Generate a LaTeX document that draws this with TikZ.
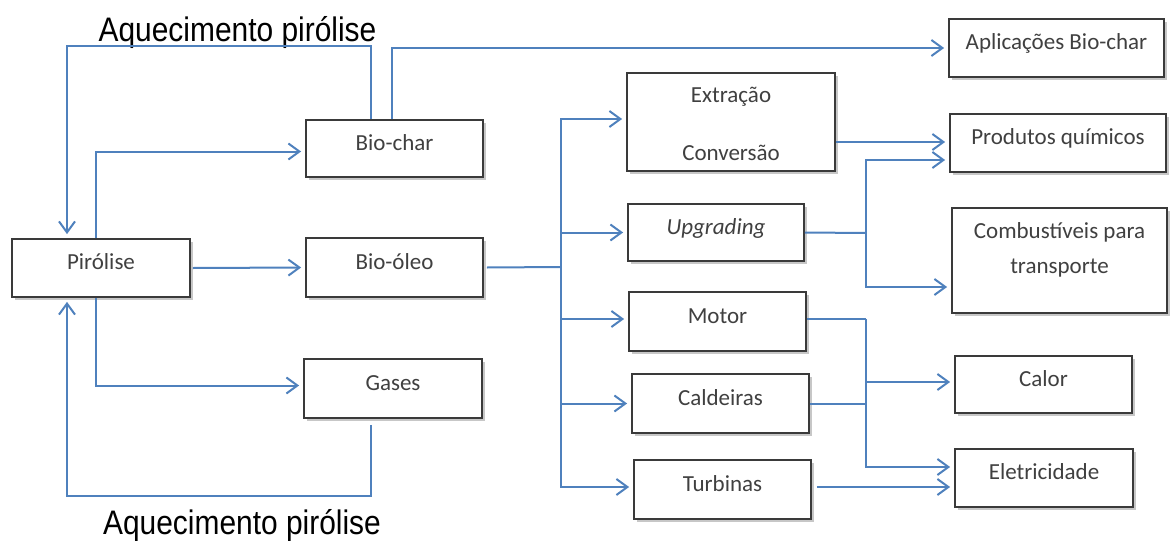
\documentclass[tikz,border=0pt]{standalone}
\usepackage{fontspec}
\setmainfont{Carlito}
\newfontfamily\titlefont[FakeStretch=0.88]{Liberation Sans}
\usetikzlibrary{arrows.meta,shadows,calc}
\definecolor{lineblue}{HTML}{4F81BD}
\definecolor{boxgray}{HTML}{3A3A3A}
\definecolor{txtgray}{HTML}{404040}
\tikzset{
 box/.style={draw=boxgray, line width=1.8pt, fill=white, inner sep=0pt, text=txtgray,
   font=\fontsize{23}{28}\selectfont, text height=12pt, text depth=9pt,
   drop shadow={shadow xshift=3pt, shadow yshift=-3pt, opacity=0.22, fill=black}},
 boxtext/.style={text=txtgray, font=\fontsize{23}{28}\selectfont, inner sep=0pt, text height=12pt, text depth=9pt},
 conn/.style={draw=lineblue, line width=2pt},
 arr/.style={conn, -{Straight Barb[length=11pt,width=16pt]}, shorten >=4pt},
 title/.style={font=\titlefont\fontsize{34}{40}\selectfont, text=black, inner sep=0pt, anchor=base},
}
\begin{document}
\begin{tikzpicture}[x=1pt,y=-1pt]
\useasboundingbox (0,0) rectangle (1171,541);
% boxes
\node[box, minimum width=178pt, minimum height=58pt] (pir) at (101,268) {Pirólise};
\node[box, minimum width=177pt, minimum height=57pt] (biochar) at (394.5,148.5) {Bio-char};
\node[box, minimum width=177pt, minimum height=59pt] (bioleo) at (394.5,267.5) {Bio-óleo};
\node[box, minimum width=178pt, minimum height=59pt] (gases) at (393,388.5) {Gases};
\node[box, minimum width=208pt, minimum height=98pt] (extr) at (731,122) {};
\node[boxtext] (extrA) at (731,100.5) {Extração};
\node[boxtext] (extrB) at (731,158.5) {Conversão};
\node[box, minimum width=176pt, minimum height=57pt] (upg) at (716,232.5) {\itshape Upgrading};
\node[box, minimum width=177pt, minimum height=59pt] (motor) at (717.5,321.5) {Motor};
\node[box, minimum width=177pt, minimum height=59pt] (cald) at (720.5,403.5) {Caldeiras};
\node[box, minimum width=177pt, minimum height=59pt] (turb) at (722.5,489.5) {Turbinas};
\node[box, minimum width=215pt, minimum height=58pt] (apl) at (1056.5,48) {Aplicações Bio-char};
\node[box, minimum width=216pt, minimum height=58pt] (prod) at (1058,143) {Produtos químicos};
\node[box, minimum width=215pt, minimum height=105pt] (comb) at (1059.5,260.5) {};
\node[boxtext] (combA) at (1059.5,236.5) {Combustíveis para};
\node[boxtext] (combB) at (1059.5,271.5) {transporte};
\node[box, minimum width=177pt, minimum height=57pt] (calor) at (1043.5,384.5) {Calor};
\node[box, minimum width=178pt, minimum height=58pt] (elet) at (1044,478) {Eletricidade};
% titles
\node[title] (t1) at (237.5,41) {Aquecimento pirólise};
\node[title] (t2) at (242,534) {Aquecimento pirólise};
% connectors left part
\coordinate (tl) at (67,46);
\coordinate (bl) at (67,496);
\draw[arr] ([xshift=-23.5pt]biochar.north) -- ([xshift=-23.5pt]biochar.north |- tl) -- (tl) -- (tl |- pir.north);
\draw[arr] ([xshift=-2.5pt]biochar.north) |- (apl.west);
\draw[arr] ([xshift=-5pt]pir.north) |- ([yshift=-3pt]biochar.west);
\draw[arr] ([xshift=2pt]pir.east) -- (bioleo.west);
\draw[arr] ([xshift=-5pt]pir.south) |- ([yshift=3pt]gases.west);
\draw[arr] ([xshift=-22pt,yshift=-6pt]gases.south) -- ([xshift=-22pt]gases.south |- bl) -- (bl) -- (bl |- pir.south);
% trunk
\coordinate (tr) at (561,267);
\draw[conn] ([xshift=3pt]bioleo.east) -- (tr);
\draw[arr] (tr) |- ([yshift=3pt]extr.west);
\draw[arr] (tr) |- (upg.west);
\draw[arr] (tr) |- ([yshift=2.5pt]motor.west);
\draw[arr] (tr) |- (cald.west);
\draw[arr] (tr) |- ([yshift=2.5pt]turb.west);
% right part
\coordinate (ep) at (0,142);
\draw[arr] (extr.east |- ep) -- (prod.west |- ep);
\coordinate (j1) at (866,233);
\draw[conn] (upg.east) -- (j1);
\draw[arr] (j1) |- ([yshift=-17pt]prod.west);
\draw[arr] (j1) |- ([yshift=-26.5pt]comb.west);
\coordinate (j2) at (866,319);
\draw[conn] (motor.east |- j2) -- (j2);
\draw[arr] (j2) |- ([yshift=2.5pt]calor.west);
\draw[arr] (j2) |- ([yshift=11pt]elet.west);
\draw[conn] (cald.east) -- (cald.east -| j2);
\coordinate (et) at (0,487);
\draw[arr] ([xshift=5pt]turb.east |- et) -- (elet.west |- et);
\end{tikzpicture}
\end{document}
